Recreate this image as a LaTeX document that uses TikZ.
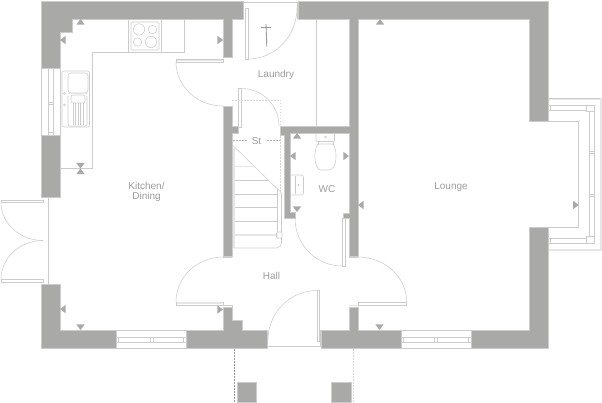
\documentclass[tikz,border=0pt]{standalone}
\usepackage{fontspec}
\usetikzlibrary{calc}
\setmainfont{Liberation Sans}
\definecolor{wallc}{HTML}{A9A9A7}
\definecolor{linec}{HTML}{CCCCCC}
\definecolor{palec}{HTML}{E6E6E6}
\definecolor{textc}{HTML}{9C9C9C}
\tikzset{
  wall/.style={fill=wallc,draw=linec,line width=0.4pt},
  ln/.style={draw=linec,line width=0.7pt},
  thin ln/.style={draw=linec,line width=0.55pt},
  pale/.style={draw=palec,line width=1.2pt},
  tick/.style={fill=wallc,draw=none},
  lbl/.style={text=textc,font=\fontsize{10}{10.4}\selectfont,inner sep=0pt,align=center},
  dots/.style={draw=palec!85!gray,line width=0.6pt,dash pattern=on 1.5pt off 1.5pt},
  darkdots/.style={draw=gray!80,line width=0.6pt,dash pattern=on 1.5pt off 1.5pt},
}
\newcommand{\mkup}[2]{\fill[tick] (#1,#2) -- ++(-4.2,5.6) -- ++(8.4,0) -- cycle;}
\newcommand{\mkdn}[2]{\fill[tick] (#1,#2) -- ++(-4.2,-5.6) -- ++(8.4,0) -- cycle;}
\newcommand{\mklf}[2]{\fill[tick] (#1,#2) -- ++(5.6,-4.2) -- ++(0,8.4) -- cycle;}
\newcommand{\mkrt}[2]{\fill[tick] (#1,#2) -- ++(-5.6,-4.2) -- ++(0,8.4) -- cycle;}
% quarter arc: start, tangent corner, end
\newcommand{\qarc}[3]{\draw[thin ln] (#1) .. controls ($(#1)!0.5523!(#2)$) and ($(#3)!0.5523!(#2)$) .. (#3);}
\begin{document}
\begin{tikzpicture}[x=1pt,y=-1pt]
\useasboundingbox (0,0) rectangle (602,402);
% ---- fixtures and thin lines first
% kitchen counter
\draw[ln] (60,168) -- (92.5,168) -- (92.5,52) -- (184.5,52) -- (184.5,19);
% hob
\draw[ln] (128.5,19) rectangle (161.5,52);
\draw[thin ln,rounded corners=1.5pt] (131,22) rectangle (159,50);
\draw[thin ln] (139,29.5) circle (5.7) (152.5,29.5) circle (4.2) (137.5,42) circle (4.2) (151,42) circle (5.7);
% sink
\draw[thin ln,rounded corners=2pt] (62,71) rectangle (89.5,127);
\draw[thin ln,rounded corners=3pt] (68,73) rectangle (88,93);
\draw[pale] (68,93.5) -- (88,93.5);
\draw[thin ln,rounded corners=2pt] (68,96) -- (68,126) -- (87,126) -- (87,96);
\draw[thin ln,rounded corners=2pt] (71,103) -- (71,95) -- (85,95) -- (85,103) -- cycle;
\foreach \xx in {73,75.5,78,80.5,83}{\draw[thin ln] (\xx,103) -- (\xx,125);}
\draw[thin ln] (64.5,93.5) circle (1) (64.5,105) circle (1);
% left window
\draw[ln] (41.5,68) -- (41.5,135) (60,68) -- (60,135);
\draw[thin ln] (48,68) -- (48,135) (53,68) -- (53,135) (48,102) -- (53,102) (48,104) -- (53,104);
\draw[thin ln] (48,132) -- (53,132);
% french doors
\draw[ln] (48,197) -- (48,284) (42,197) -- (48,197) (42,284) -- (48,284);
\draw[ln] (1,200) -- (43,200) -- (43,202.5) -- (1,202.5) -- cycle;
\draw[ln] (1,279.5) -- (43,279.5) -- (43,282) -- (1,282) -- cycle;
\qarc{1,202.5}{1,240.5}{43,240.5}
\qarc{1,279.5}{1,240.5}{43,240.5}
% kitchen-laundry door
\draw[ln] (176,59) rectangle (223,62);
\draw[pale] (177,60.5) -- (222,60.5);
\qarc{176,62}{176,106}{223,106}
% bottom windows
\foreach \xa/\xb/\xm in {116/186/151.5,401/471/436}{
  \draw[ln] (\xa,330.5) -- (\xb,330.5) (\xa,348) -- (\xb,348) (\xa,330.5) -- (\xa,348) (\xb,330.5) -- (\xb,348);
  \draw[thin ln] (\xa,337.5) -- (\xb,337.5) (\xa,342.5) -- (\xb,342.5);
  \draw[thin ln] (\xa+2.5,337.5) -- (\xa+2.5,342.5) (\xb-2.5,337.5) -- (\xb-2.5,342.5);
  \draw[thin ln] (\xm-1.5,337.5) -- (\xm-1.5,342.5) (\xm+1.5,337.5) -- (\xm+1.5,342.5);
}
% laundry external door
\draw[ln] (243,2.5) -- (298,2.5) (297,2.5) -- (297,19);
\draw[ln] (245,8.5) rectangle (248,59);
\qarc{248,59}{297,59}{297,8}
\draw[line width=0.9pt,draw=gray!80] (266,24) -- (266.8,46.5) (261,27.5) -- (271,27.5);
\draw[thin ln] (316.5,19) -- (316.5,126);
% stair cupboard door
\draw[ln] (238.5,88.5) rectangle (241.5,127);
\qarc{241.5,88.5}{279,88.5}{279,126}
\draw[dots] (232,100) -- (280.5,100) -- (280.5,126);
\draw[darkdots,draw=gray!60] (233,140) -- (247,140) (267,140) -- (280.5,140);
\draw[dots] (280.5,133) -- (280.5,192);
\node[lbl] (st) at (256.5,141) {St};
% stairs
\draw[pale,line width=2pt] (234,148) -- (234,248);
\draw[thin ln] (232.5,145) -- (281.5,193);
\draw[pale] (235,166.7) -- (254,166.7);
\foreach \yy/\xe in {180/268,194/278,207/278,221/278}{\draw[thin ln] (235,\yy) -- (\xe,\yy);}
\draw[pale] (235,235) -- (278,235);
\draw[thin ln,rounded corners=5pt] (234,248) -- (281.5,248) -- (281.5,238);
\draw[thin ln] (277.5,189) -- (277.5,232) (281.5,193) -- (281.5,232);
\draw[thin ln,rounded corners=1pt] (276.5,232) rectangle (282,238);
% WC fittings
\draw[thin ln,rounded corners=1pt] (316,133) rectangle (334.5,141.5);
\draw[thin ln] (325.5,137) circle (0.9);
\draw[thin ln] (318,141.5) -- (318,145) (333,141.5) -- (333,145);
\draw[thin ln] (318,144) .. controls (313,150) and (314,170) .. (321,170) -- (329,170) .. controls (337,170) and (338,150) .. (333,144) -- cycle;
\draw[thin ln,rounded corners=2pt] (290,175) -- (303.5,175) -- (303.5,195) -- (290,195);
\draw[thin ln] (295,176) -- (295,194);
\draw[thin ln] (298.5,185) circle (0.7);
% WC door
\draw[ln] (342,218) rectangle (345,266);
\qarc{295,218}{295,266}{342,266}
% hall doors
\draw[ln] (176,302) rectangle (223,305);
\draw[pale] (177,303) -- (222,303);
\draw[ln] (223,305) -- (232,305) -- (232,307) (223,257) -- (232,257);
\qarc{176,302}{176,257}{223,257}
\draw[ln] (358,302) rectangle (406.7,305);
\draw[ln] (349,257) -- (358,257);
\draw[pale] (349,305.5) -- (358,305.5);
\qarc{406.7,302}{406.7,257}{358,257}
% front door
\draw[ln] (267,346.7) -- (321,346.7);
\draw[ln] (267.5,330) -- (267.5,347) (320.5,330) -- (320.5,347);
\draw[ln] (317,290.5) -- (319.5,290.5) -- (319.5,341) -- (317,341) -- cycle;
\qarc{268,340}{268,290.5}{317,290.5}
% bay window
\draw[pale] (548,99) -- (601,99) -- (601,250) -- (548,250);
\draw[ln] (548,98.5) -- (600,98.5);
\draw[ln] (548,121) -- (578.7,121) -- (578.7,227) -- (548,227);
\draw[thin ln] (548,105.5) -- (586,105.5) (548,110.5) -- (586,110.5) (548,238.5) -- (586,238.5) (548,243) -- (586,243);
\draw[thin ln] (550.5,105.5) -- (550.5,110.5) (550.5,238.5) -- (550.5,243);
\draw[thin ln] (586.5,105) rectangle (594,111) (586.5,236) rectangle (594,243.5);
\draw[thin ln] (589,111) -- (589,236) (594,111) -- (594,236);
\draw[thin ln] (589,151) -- (594,151) (589,153.5) -- (594,153.5) (589,194) -- (594,194) (589,196.5) -- (594,196.5);
% porch
\draw[darkdots] (234.5,349) -- (234.5,402);
\draw[dots] (353.5,349) -- (353.5,402);
% ---- walls
\path[wall] (41.5,1) -- (243.5,1) -- (243.5,19) -- (232,19) -- (232,57) -- (223,57) -- (223,19) -- (72,19) -- (72,32) -- (60,32) -- (60,68) -- (41.5,68) -- cycle;
\path[wall] (41.5,135) rectangle (60,197);
\path[wall] (41.5,284) -- (60,284) -- (60,330) -- (116,330) -- (116,348) -- (41.5,348) -- cycle;
\path[wall] (186,330) -- (223,330) -- (223,307) -- (232,307) -- (232,320) -- (242,320) -- (242,330) -- (267,330) -- (267,348) -- (186,348) -- cycle;
\path[wall] (321,330) -- (349,330) -- (349,307) -- (358,307) -- (358,330) -- (401,330) -- (401,348) -- (321,348) -- cycle;
\path[wall] (471,330) -- (529,330) -- (529,227) -- (548,227) -- (548,348) -- (471,348) -- cycle;
\path[wall] (298,1) -- (548,1) -- (548,121) -- (529,121) -- (529,19) -- (358,19) -- (358,256.5) -- (349,256.5) -- (349,218.5) -- (343,218.5) -- (343,213) -- (349,213) -- (349,133) -- (290,133) -- (290,212) -- (295,212) -- (295,218) -- (284,218) -- (284,135) -- (280,135) -- (280,126.5) -- (349,126.5) -- (349,19) -- (298,19) -- cycle;
\path[wall] (223,106.5) -- (232,106.5) -- (232,126.5) -- (238.5,126.5) -- (238.5,133) -- (232,133) -- (232,256.5) -- (223,256.5) -- cycle;
\path[wall] (237,382) rectangle (256.5,402);
\path[wall] (331.5,382) rectangle (351,402);
% ---- markers
\mkup{80.5}{19} \mklf{60}{40} \mkrt{223}{40}
\mkdn{80.5}{168.5} \mkup{80.5}{168.5}
\mklf{60}{309} \mkdn{80.5}{330}
\mkrt{223}{309.5} \mkdn{379.5}{330}
\mkup{297}{133} \mklf{290}{156} \mkrt{349}{156} \mkdn{297}{212}
\mklf{358}{205} \mkup{380}{19} \mkrt{578.7}{205}
% ---- labels
\node[lbl] (laundry) at (276,75) {Laundry};
\node[lbl] (kitchen) at (146.5,192) {Kitchen/\\[0pt]Dining};
\node[lbl] (hall) at (271.5,276) {Hall};
\node[lbl] (lounge) at (451,187) {Lounge};
\node[lbl] (wc) at (327,189) {WC};
\end{tikzpicture}
\end{document}
